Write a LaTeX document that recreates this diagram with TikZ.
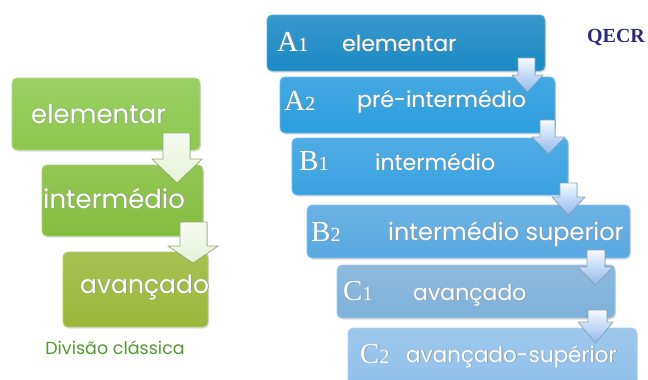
\documentclass[tikz,border=0pt]{standalone}
\usepackage{fontspec}
\usetikzlibrary{shadows}
\setsansfont{Poppins}
\newfontfamily\qfont{Liberation Serif}
\newfontfamily\codefont{Liberation Serif}
\definecolor{gA}{HTML}{8CC850}
\definecolor{gB}{HTML}{84BE3E}
\definecolor{gC}{HTML}{9BB83A}
\definecolor{bA}{HTML}{1B8AC4}
\definecolor{bB}{HTML}{2B9DDE}
\definecolor{bC}{HTML}{38A1E0}
\definecolor{bD}{HTML}{58A8E0}
\definecolor{bE}{HTML}{7EB1DA}
\definecolor{bF}{HTML}{8FC0EA}
\definecolor{divgreen}{HTML}{4D9B2E}
\definecolor{qnavy}{HTML}{2E2A78}
\newcommand\osn[1]{{\fontsize{20}{20}\selectfont #1}}
\newcommand\shd[1]{\makebox[0pt][l]{\hspace{0.9pt}\raisebox{-0.9pt}{\textcolor{black!40}{#1}}}#1}
\newcommand\dnarrow[8]{%
  \filldraw[#8] (#1,#3) -- (#2,#3) -- (#2,#4) -- (#6,#4) -- ({(#5+#6)/2},#7) -- (#5,#4) -- (#1,#4) -- cycle;}
\begin{document}
\begin{tikzpicture}[x=1pt,y=-1pt,
  lvlbox/.style={rounded corners=5pt, line width=0.9pt, inner sep=0pt,
    draw=#1!70!white, top color=#1!88!white, bottom color=#1,
    drop shadow={opacity=0.25, shadow xshift=1pt, shadow yshift=-1.5pt}},
  lbig/.style={text=white, font=\sffamily\fontsize{26}{26}\selectfont, inner sep=0pt, anchor=base west},
  rsm/.style={text=white, font=\sffamily\fontsize{22}{22}\selectfont, inner sep=0pt, anchor=base west},
  rcode/.style={text=white, font=\codefont\fontsize{29}{29}\selectfont, inner sep=0pt, anchor=base west},
  garrow/.style={draw=black!30!gA!70!white, line width=0.6pt, top color=white!92!gA, bottom color=white!78!gA},
  barrow/.style={draw=black!25!bF!80!white, line width=0.6pt, top color=white!92!bF, bottom color=white!60!blue!20!bF}]
\useasboundingbox (0,0) rectangle (648,380);
% left boxes
\node[lvlbox=gA, minimum width=188pt, minimum height=72pt] (g1) at (106,114) {};
\node[lvlbox=gB, minimum width=161pt, minimum height=71pt] (g2) at (122.5,200.5) {};
\node[lvlbox=gC, minimum width=145pt, minimum height=75pt] (g3) at (135.5,289.5) {};
\node[lbig] (tg1) at (31,123) {\shd{elementar}};
\node[lbig] (tg2) at (43,208) {\shd{intermédio}};
\node[lbig, font=\sffamily\fontsize{25}{25}\selectfont] (tg3) at (80,293) {\shd{avançado}};
\node[text=divgreen, font=\sffamily\fontsize{17.5}{17.5}\selectfont, inner sep=0pt, anchor=base] (div) at (115,354) {Divisão clássica};
% right boxes
\node[lvlbox=bA, minimum width=278pt, minimum height=56pt] (a1) at (406,43) {};
\node[lvlbox=bB, minimum width=275pt, minimum height=56pt] (a2) at (417.5,105) {};
\node[lvlbox=bC, minimum width=276pt, minimum height=57pt] (b1) at (430,166.5) {};
\node[lvlbox=bD, minimum width=323pt, minimum height=53pt] (b2) at (468.5,231.5) {};
\node[lvlbox=bE, minimum width=278pt, minimum height=53pt] (c1) at (476,291.5) {};
\node[lvlbox=bF, minimum width=289pt, minimum height=60pt] (c2) at (492.5,358) {};
\node[rcode] (ka1) at (277,51) {\shd{A\osn{1}}};
\node[rsm] (ta1) at (342,51) {\shd{elementar}};
\node[rcode] (ka2) at (284,110) {\shd{A\osn{2}}};
\node[rsm] (ta2) at (357,107) {\shd{pré-intermédio}};
\node[rcode] (kb1) at (299,170) {\shd{B\osn{1}}};
\node[rsm] (tb1) at (375,170) {\shd{intermédio}};
\node[rcode] (kb2) at (311,241) {\shd{B\osn{2}}};
\node[rsm, font=\sffamily\fontsize{24}{24}\selectfont] (tb2) at (388,240) {\shd{intermédio superior}};
\node[rcode] (kc1) at (343,300) {\shd{C\osn{1}}};
\node[rsm] (tc1) at (413,300) {\shd{avançado}};
\node[rcode] (kc2) at (360,363) {\shd{C\osn{2}}};
\node[rsm, font=\sffamily\fontsize{21.5}{21.5}\selectfont] (tc2) at (406,362) {\shd{avançado-supérior}};
\node[text=qnavy, font=\qfont\bfseries\fontsize{20}{20}\selectfont, inner sep=0pt, anchor=base] (q) at (616,42) {QECR};
% arrows
\dnarrow{163}{190}{133}{159}{152}{202}{183}{garrow}
\dnarrow{180}{207}{222}{246}{168}{218}{263}{garrow}
\dnarrow{518}{535}{58}{75}{512}{543}{92}{barrow}
\dnarrow{540}{555}{120}{137}{532}{565}{154}{barrow}
\dnarrow{560}{577}{183}{197}{552}{585}{215}{barrow}
\dnarrow{587}{605}{250}{267}{578}{613}{285}{barrow}
\dnarrow{588}{607}{310}{322}{578}{613}{343}{barrow}
\end{tikzpicture}
\end{document}
